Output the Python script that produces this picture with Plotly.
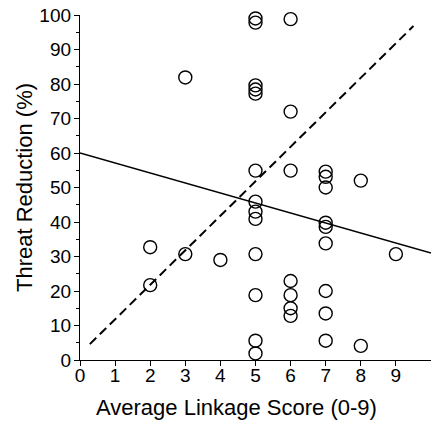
import plotly.graph_objects as go

# Data
linkage_score = [2, 2, 3, 3, 4,
                 5, 5, 5, 5, 5, 5, 5, 5, 5, 5, 5, 5, 5,
                 6, 6, 6, 6, 6, 6, 6,
                 7, 7, 7, 7, 7, 7, 7, 7, 7,
                 8, 8, 9]
threat_reduction = [32.7, 21.7, 81.9, 30.7, 29.0,
                    99.0, 97.8, 79.6, 78.4, 77.2, 54.9, 45.9, 43.0, 40.9, 30.7, 18.8, 5.6, 1.9,
                    98.8, 72.0, 54.9, 22.9, 18.8, 15.0, 12.8,
                    54.6, 53.1, 50.0, 39.8, 38.6, 33.8, 20.0, 13.5, 5.6,
                    52.0, 4.1, 30.7]

# Regression (solid) and reference (dashed) lines, endpoints
fit_x = [0, 10]
fit_y = [60, 31]
ref_x = [0.28, 9.5]
ref_y = [4.6, 96.8]

x_ticks = list(range(0, 10))
y_ticks = list(range(0, 101, 10))

fig = go.Figure()
fig.add_trace(go.Scatter(x=fit_x, y=fit_y, mode="lines",
                         line=dict(color="black", width=1.3), showlegend=False,
                         cliponaxis=False))
fig.add_trace(go.Scatter(x=ref_x, y=ref_y, mode="lines",
                         line=dict(color="black", width=2, dash="9px,5px"), showlegend=False,
                         cliponaxis=False))
fig.add_trace(go.Scatter(x=linkage_score, y=threat_reduction, mode="markers",
                         marker=dict(symbol="circle-open", size=13, color="black",
                                     line=dict(width=1.4, color="black")),
                         showlegend=False, cliponaxis=False))

font = "Liberation Sans, Arial, sans-serif"
fig.update_layout(
    width=431, height=422,
    margin=dict(l=80, r=0, t=15, b=62),
    paper_bgcolor="white", plot_bgcolor="white",
    font=dict(family=font, color="black", size=19),
    annotations=[dict(text="Average Linkage Score (0-9)", xref="paper", yref="paper",
                      x=0.447, y=-0.139, xanchor="center", yanchor="middle",
                      showarrow=False, font=dict(size=22, family=font, color="black"))],
)
fig.update_xaxes(
    range=[0, 10], tickvals=x_ticks, ticktext=[str(v) for v in x_ticks],
    showgrid=False, zeroline=False, showline=True, linecolor="black", linewidth=1.3,
    ticks="outside", ticklen=5, tickwidth=1.3, tickcolor="black",
    tickfont=dict(size=19, family=font), ticklabelstandoff=-7,
    automargin=False,
)
fig.update_yaxes(
    range=[0, 100], tickvals=y_ticks, ticktext=[str(v) for v in y_ticks],
    showgrid=False, zeroline=False, showline=True, linecolor="black", linewidth=1.3,
    ticks="outside", ticklen=5, tickwidth=1.3, tickcolor="black",
    minor=dict(tickvals=list(range(5, 100, 10)), ticks="outside", ticklen=3,
               tickwidth=1.3, tickcolor="black", showgrid=False),
    tickfont=dict(size=19, family=font), ticklabelstandoff=-1,
    automargin=False,
    title=dict(text="Threat Reduction (%)", font=dict(size=22, family=font), standoff=0),
)

fig.write_html("out.html", config={"displayModeBar": False},
               post_script="document.body.style.margin='0';document.body.style.padding='0';")
